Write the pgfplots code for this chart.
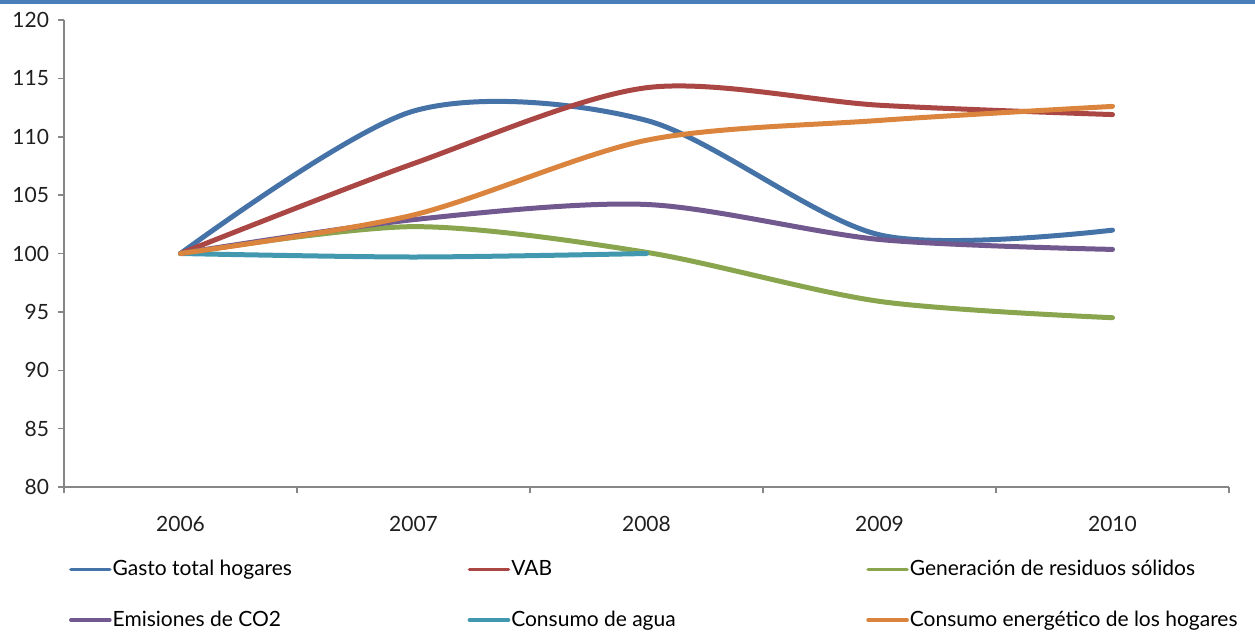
\documentclass[border=0pt]{standalone}
\usepackage{fontspec}
\setmainfont{Lato}
\usepackage{pgfplots}
\pgfplotsset{compat=1.18}
\definecolor{cBlue}{RGB}{69,114,167}
\definecolor{cRed}{RGB}{170,70,67}
\definecolor{cGreen}{RGB}{137,165,78}
\definecolor{cPurple}{RGB}{113,88,143}
\definecolor{cTeal}{RGB}{65,152,175}
\definecolor{cOrange}{RGB}{219,132,61}
\definecolor{cBand}{RGB}{74,126,187}
\definecolor{cAxis}{RGB}{134,134,134}
\begin{document}
\begin{tikzpicture}
\begin{axis}[
  at={(32pt,72.5pt)}, anchor=south west,
  scale only axis, width=582.5pt, height=233.5pt,
  xmin=-0.5, xmax=4.5, ymin=80, ymax=120,
  axis lines=left, axis line style={-, cAxis, line width=0.75pt},
  xtick={0,1,2,3,4}, xticklabels={2006,2007,2008,2009,2010},
  minor xtick={-0.5,0.5,1.5,2.5,3.5,4.5},
  major x tick style={draw=none},
  minor tick length=3pt, major tick length=3pt,
  tick align=outside,
  tick style={cAxis, line width=0.75pt},
  ytick={80,85,...,120},
  /pgf/number format/assume math mode=true,
  ticklabel style={font=\fontsize{10.5}{12}\selectfont, text=black!88},
  yticklabel style={xshift=-1pt},
  xticklabel style={yshift=-8pt},
  legend columns=3,
  legend cell align=left,
  legend style={draw=none, fill=none, at={(0.0040,-0.150)}, anchor=north west,
    inner xsep=0pt, inner ysep=0pt, row sep=13pt,
    nodes={inner xsep=0.5pt, inner ysep=1.5pt}, font=\fontsize{10.5}{12}\selectfont},
  legend image code/.code={\draw[line width=1.8pt] (0pt,0pt) -- (19.5pt,0pt);},
  every axis plot/.append style={line width=2.5pt, line cap=round, line join=round, smooth, no markers},
]
\addplot[cBlue] coordinates {(0,100) (1,112.2) (2,111.4) (3,101.6) (4,102.0)};
\addlegendentry{\makebox[177pt][l]{Gasto total hogares}}
\addplot[cRed] coordinates {(0,100) (1,107.7) (2,114.2) (3,112.7) (4,111.9)};
\addlegendentry{\makebox[177pt][l]{VAB}}
\addplot[cGreen] coordinates {(0,100) (1,102.3) (2,100.1) (3,95.9) (4,94.5)};
\addlegendentry{Generación de residuos sólidos}
\addplot[cPurple] coordinates {(0,100) (1,102.9) (2,104.2) (3,101.2) (4,100.35)};
\addlegendentry{\makebox[177pt][l]{Emisiones de CO2}}
\addplot[cTeal] coordinates {(0,100) (1,99.7) (2,100.0)};
\addlegendentry{\makebox[177pt][l]{Consumo de agua}}
\addplot[cOrange] coordinates {(0,100) (1,103.3) (2,109.7) (3,111.4) (4,112.6)};
\addlegendentry{Consumo energético de los hogares}
\end{axis}
\fill[cBand] (0,314pt) rectangle (627.5pt,316pt);
\pgfresetboundingbox
\useasboundingbox (0,0) rectangle (627.5pt,316pt);
\end{tikzpicture}
\end{document}
